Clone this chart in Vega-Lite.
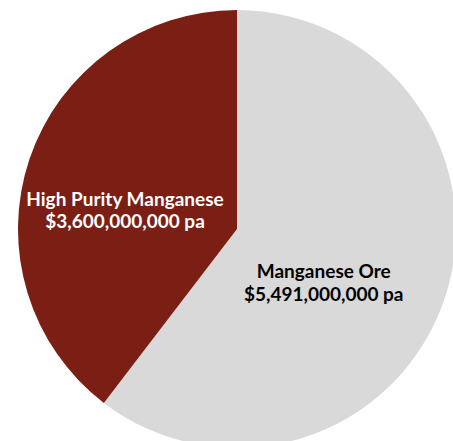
{
  "$schema": "https://vega.github.io/schema/vega-lite/v6.json",
  "width": 474,
  "height": 458,
  "autosize": {"type": "none"},
  "padding": 0,
  "background": "white",
  "view": {"stroke": null},
  "data": {"values": [
    {"category": "Manganese Ore", "value": 5491000000, "label": ["Manganese Ore", "$5,491,000,000 pa"]},
    {"category": "High Purity Manganese", "value": 3600000000, "label": ["High Purity Manganese", "$3,600,000,000 pa"]}
  ]},
  "encoding": {
    "theta": {"field": "value", "type": "quantitative", "stack": true},
    "order": {"field": "value", "type": "quantitative", "sort": "descending"},
    "detail": {"field": "category", "type": "nominal"}
  },
  "layer": [
    {
      "mark": {"type": "arc", "radius": 219},
      "encoding": {
        "color": {"field": "category", "type": "nominal",
          "scale": {"domain": ["Manganese Ore", "High Purity Manganese"], "range": ["#D9D9D9", "#7B1E13"]},
          "legend": null}
      }
    },
    {
      "mark": {"type": "text", "radius": 113, "dx": -5, "dy": 7, "fontSize": 19, "fontWeight": "bold", "font": "Lato", "color": "white", "lineHeight": 22, "baseline": "middle", "align": "center"},
      "encoding": {
        "text": {"condition": {"test": "datum.category === 'High Purity Manganese'", "field": "label"}, "value": ""}
      }
    },
    {
      "mark": {"type": "text", "radius": 100, "dx": -8, "dy": 11, "fontSize": 19, "fontWeight": "bold", "font": "Lato", "color": "black", "lineHeight": 23, "baseline": "middle", "align": "center"},
      "encoding": {
        "text": {"condition": {"test": "datum.category === 'Manganese Ore'", "field": "label"}, "value": ""}
      }
    }
  ]
}
